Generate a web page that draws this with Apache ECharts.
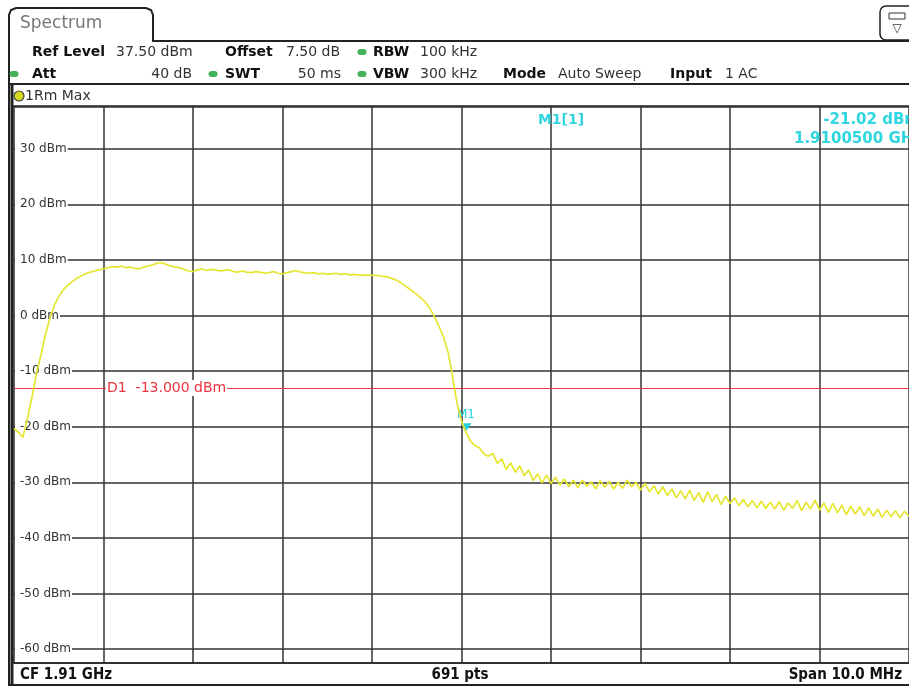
<!DOCTYPE html>
<html>
<head>
<meta charset="utf-8">
<title>Spectrum</title>
<script src="https://cdn.jsdelivr.net/npm/echarts@6.0.0/dist/echarts.min.js"></script>
<style>
  html, body { margin: 0; padding: 0; background: #fff; }
  #chart { width: 909px; height: 686px; }
</style>
</head>
<body>
<div id="chart"></div>
<script>
// sweep: 1905 .. 1915 MHz (CF 1.91 GHz, span 10 MHz), one reading every 0.05 MHz
const freqStart = 1905;
const freqStep = 0.05;
// trace 1Rm Max, dBm
const levels = [
  -20.3, -21.0, -21.9, -18.5, -14.8, -10.5, -7.2, -3.5, -0.6, 1.8,
  3.4, 4.6, 5.4, 6.1, 6.7, 7.1, 7.5, 7.8, 8.0, 8.2,
  8.4, 8.6, 8.8, 8.7, 8.9, 8.6, 8.7, 8.5, 8.4, 8.7,
  8.9, 9.1, 9.4, 9.5, 9.2, 8.9, 8.7, 8.6, 8.3, 8.0,
  7.9, 8.2, 8.4, 8.1, 8.3, 8.2, 8.0, 8.1, 8.2, 7.9,
  7.8, 8.0, 7.8, 7.7, 7.9, 7.8, 7.6, 7.7, 7.9, 7.6,
  7.5, 7.7, 7.9, 8.1, 7.8, 7.7, 7.6, 7.7, 7.5, 7.6,
  7.4, 7.5, 7.6, 7.4, 7.5, 7.3, 7.4, 7.3, 7.2, 7.3,
  7.2, 7.2, 7.1, 7.0, 6.8, 6.5, 6.1, 5.6, 5.0, 4.4,
  3.8, 3.1, 2.3, 1.2, -0.3, -2.0, -3.9, -6.6, -11.0, -15.8,
  -19.0, -21.02, -22.6, -23.4, -23.8, -24.9, -25.3, -24.8, -26.6, -25.8,
  -27.7, -26.5, -28.2, -27.0, -28.8, -27.8, -29.7, -28.5, -30.1, -28.7,
  -30.2, -29.1, -30.5, -29.4, -30.8, -29.6, -31.0, -29.6, -30.7, -29.9,
  -31.2, -29.7, -30.9, -29.8, -31.2, -30.0, -31.1, -29.6, -30.8, -30.0,
  -31.4, -30.2, -31.7, -30.6, -32.1, -30.8, -32.4, -31.2, -32.8, -31.5,
  -33.0, -31.4, -33.3, -31.8, -33.6, -31.7, -33.5, -32.2, -34.0, -32.5,
  -33.8, -32.8, -34.2, -33.1, -34.4, -33.3, -34.6, -33.4, -34.7, -33.6,
  -34.8, -33.5, -35.0, -33.7, -34.7, -33.3, -35.1, -33.6, -34.8, -33.2,
  -35.0, -33.7, -35.4, -33.8, -35.5, -34.1, -35.8, -34.3, -35.7, -34.4,
  -36.0, -34.6, -36.1, -34.8, -36.3, -35.0, -36.2, -35.1, -36.4, -35.2,
  -36.1
];
// marker M1 and display line D1
const marker = { name: 'M1', freq: 1910.05, level: -21.02 };
const displayLine = -13;
// y scale: ref level 37.5 dBm, 10 dB/div
const refLevel = 37.5;
const bottomLevel = -62.5;

const traceData = levels.map((v, i) => [freqStart + i * freqStep, v]);

const chart = echarts.init(document.getElementById('chart'));

const fontMain = 'DejaVu Sans';
const frameColor = '#222';
const green = '#43b25a';
const cyan = '#2fd6df';

function txt(x, y, s, opts) {
  return {
    type: 'text', x: x, y: y, z: 20,
    style: Object.assign({ text: s, fill: '#333', font: '14px ' + fontMain, verticalAlign: 'middle' }, opts || {})
  };
}
function bold(x, y, s) {
  return txt(x, y, s, { font: 'bold 14px ' + fontMain, fill: '#111' });
}
function dot(x, y) {
  return { type: 'rect', z: 20, shape: { x: x - 4.5, y: y - 3, width: 9, height: 6, r: 3 }, style: { fill: green } };
}
function hline(y, x1, x2, w) {
  return { type: 'line', z: 20, shape: { x1: x1, y1: y, x2: x2, y2: y }, style: { stroke: frameColor, lineWidth: w || 2 } };
}
function foot(x, y, s, align) {
  return txt(x, y, s, { font: 'bold 15px "DejaVu Sans Condensed"', fill: '#111', align: align || 'left' });
}

const option = {
  animation: false,
  backgroundColor: '#fff',
  grid: { left: 14, right: -4, top: 107, height: 556 },
  xAxis: {
    type: 'value',
    min: 1905,
    max: 1915,
    interval: 1,
    axisLine: { show: false },
    axisTick: { show: false },
    axisLabel: { show: false },
    splitLine: { lineStyle: { color: '#333', width: 1.5 } }
  },
  yAxis: {
    type: 'value',
    min: bottomLevel,
    max: refLevel,
    splitNumber: 10,
    minInterval: 10,
    maxInterval: 10,
    axisLine: { show: false },
    axisTick: { show: false },
    axisLabel: {
      inside: true,
      margin: 1,
      showMinLabel: false,
      showMaxLabel: false,
      formatter: v => v + ' dBm',
      color: '#333',
      fontFamily: fontMain,
      fontSize: 12,
      backgroundColor: '#fff',
      padding: [1, 1, 1, 5]
    },
    splitLine: { lineStyle: { color: '#333', width: 1.5 } }
  },
  series: [{
    type: 'line',
    data: traceData,
    symbol: 'none',
    z: 5,
    lineStyle: { color: '#e6e632', width: 1.7 },
    markLine: {
      silent: true,
      symbol: 'none',
      label: { show: false },
      lineStyle: { color: '#ee3340', width: 1, type: 'solid' },
      data: [{ yAxis: displayLine }]
    },
    markPoint: {
      silent: true,
      symbol: 'triangle',
      symbolSize: [11, 8],
      symbolRotate: 180,
      symbolOffset: [0, -5],
      itemStyle: { color: '#22d3e0' },
      label: {
        show: true,
        position: 'top',
        distance: 2,
        formatter: '{b}',
        color: '#22d3e0',
        fontFamily: fontMain,
        fontSize: 12
      },
      data: [{ name: marker.name, coord: [marker.freq, marker.level] }]
    }
  }],
  graphic: {
    elements: [
      // tab + outer frame
      {
        type: 'polyline', z: 20,
        shape: { points: [[9, 686], [9, 15], [11, 10], [16, 8], [146, 8], [151, 10], [153, 15], [153, 41], [912, 41]] },
        style: { stroke: frameColor, lineWidth: 2, fill: null }
      },
      txt(20, 24, 'Spectrum', { font: '17px ' + fontMain, fill: '#777' }),
      // top right icon
      {
        type: 'rect', z: 20,
        shape: { x: 880, y: 6, width: 34, height: 34, r: 6 },
        style: { stroke: frameColor, lineWidth: 1.5, fill: '#fff' }
      },
      { type: 'rect', z: 21, shape: { x: 889, y: 13, width: 16, height: 6 }, style: { stroke: '#333', lineWidth: 1, fill: '#fff' } },
      txt(897, 29, '▽', { font: '12px ' + fontMain, fill: '#333', align: 'center' }),
      // settings rows
      bold(32, 52, 'Ref Level'),
      txt(116, 52, '37.50 dBm'),
      bold(225, 52, 'Offset'),
      txt(286, 52, '7.50 dB'),
      dot(362, 52),
      bold(373, 52, 'RBW'),
      txt(420, 52, '100 kHz'),
      dot(14, 74),
      bold(32, 74, 'Att'),
      txt(192, 74, '40 dB', { align: 'right' }),
      dot(213, 74),
      bold(225, 74, 'SWT'),
      txt(341, 74, '50 ms', { align: 'right' }),
      dot(362, 74),
      bold(373, 74, 'VBW'),
      txt(420, 74, '300 kHz'),
      bold(503, 74, 'Mode'),
      txt(558, 74, 'Auto Sweep'),
      bold(670, 74, 'Input'),
      txt(725, 74, '1 AC'),
      // trace box
      hline(84, 9, 912, 2),
      hline(106, 12, 912, 1.5),
      { type: 'line', z: 20, shape: { x1: 12, y1: 84, x2: 12, y2: 686 }, style: { stroke: frameColor, lineWidth: 3 } },
      { type: 'circle', z: 20, shape: { cx: 19, cy: 96, r: 5 }, style: { fill: '#d8d820', stroke: '#444', lineWidth: 1.2 } },
      txt(25, 96, '1Rm Max', { font: '14px ' + fontMain }),
      // marker readout
      txt(561, 120, 'M1[1]', { font: 'bold 14px ' + fontMain, fill: cyan, align: 'center' }),
      txt(920, 120, '-21.02 dBm', { font: 'bold 15px ' + fontMain, fill: cyan, align: 'right' }),
      txt(922, 139, '1.9100500 GHz', { font: 'bold 15px ' + fontMain, fill: cyan, align: 'right' }),
      // display line label
      {
        type: 'text', z: 30, x: 106, y: 388,
        style: {
          text: 'D1  -13.000 dBm', fill: '#ee3340', font: '14px ' + fontMain,
          verticalAlign: 'middle', backgroundColor: '#fff', padding: [1, 1, 1, 1]
        }
      },
      // footer
      hline(663, 12, 912, 1.5),
      hline(685, 9, 912, 2),
      foot(20, 675, 'CF 1.91 GHz'),
      foot(460, 675, '691 pts', 'center'),
      foot(902, 675, 'Span 10.0 MHz', 'right')
    ]
  }
};

chart.setOption(option);
window.addEventListener('resize', () => chart.resize());
</script>
</body>
</html>
